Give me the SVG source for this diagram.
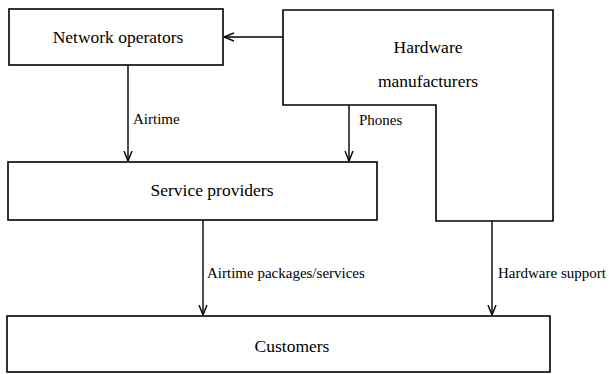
<svg xmlns="http://www.w3.org/2000/svg" width="609" height="374" viewBox="0 0 609 374">
  <style>
    .box { fill: #ffffff; stroke: #000000; stroke-width: 1.6; }
    .edge { fill: none; stroke: #000000; stroke-width: 1.4; }
    text { font-family: 'Liberation Serif', 'Times New Roman', Times, serif; fill: #000000; }
    .node-label { font-size: 17.5px; text-anchor: middle; }
    .edge-label { font-size: 15px; }
  </style>
  <defs>
    <marker id="arrow" viewBox="0 0 10 10" refX="10" refY="5" markerWidth="10" markerHeight="10" markerUnits="userSpaceOnUse" orient="auto">
      <path d="M0,1 L10,5 L0,9" fill="none" stroke="#000000" stroke-width="1.4"/>
    </marker>
  </defs>
  <rect width="609" height="374" fill="#ffffff"/>

  <g id="network-operators">
    <rect class="box" x="9" y="9" width="214" height="56"/>
    <text class="node-label" x="118" y="43" font-family="Liberation Serif, serif">Network operators</text>
  </g>

  <g id="hardware-manufacturers">
    <path class="box" d="M283,10 L553,10 L553,221 L436,221 L436,105 L283,105 Z"/>
    <text class="node-label" x="428" y="53" font-family="Liberation Serif, serif">Hardware</text>
    <text class="node-label" x="428" y="87" font-family="Liberation Serif, serif">manufacturers</text>
  </g>

  <g id="service-providers">
    <rect class="box" x="8" y="162" width="369" height="58"/>
    <text class="node-label" x="212" y="196" font-family="Liberation Serif, serif">Service providers</text>
  </g>

  <g id="customers">
    <rect class="box" x="7" y="316" width="543" height="56"/>
    <text class="node-label" x="292" y="352" font-family="Liberation Serif, serif">Customers</text>
  </g>

  <g id="connectors">
    <line class="edge" x1="283" y1="37" x2="224" y2="37" marker-end="url(#arrow)"/>
    <line class="edge" x1="128" y1="65" x2="128" y2="161" marker-end="url(#arrow)"/>
    <text class="edge-label" x="133" y="124" font-family="Liberation Serif, serif">Airtime</text>
    <line class="edge" x1="349" y1="105" x2="349" y2="161" marker-end="url(#arrow)"/>
    <text class="edge-label" x="359" y="125" font-family="Liberation Serif, serif">Phones</text>
    <line class="edge" x1="203" y1="220" x2="203" y2="315" marker-end="url(#arrow)"/>
    <text class="edge-label" x="207" y="278" font-family="Liberation Serif, serif">Airtime packages/services</text>
    <line class="edge" x1="492" y1="221" x2="492" y2="315" marker-end="url(#arrow)"/>
    <text class="edge-label" x="498" y="278" font-family="Liberation Serif, serif">Hardware support</text>
  </g>
</svg>
